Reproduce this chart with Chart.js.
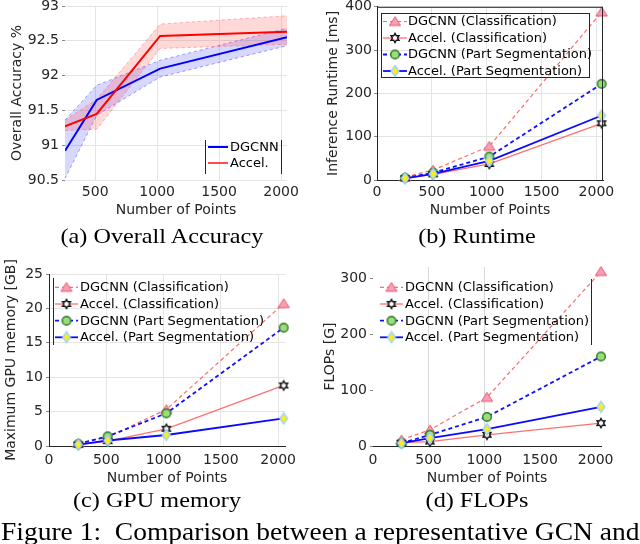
<!DOCTYPE html>
<html>
<head>
<meta charset="utf-8">
<script src="https://cdn.jsdelivr.net/npm/chart.js@4.4.1/dist/chart.umd.min.js"></script>
<style>
  body { margin: 0; background: #fff; width: 640px; height: 544px; overflow: hidden; position: relative; }
  canvas { position: absolute; }
  .cap { position: absolute; font-family: "Liberation Serif", serif; font-size: 22px; line-height: 22px; color: #000; white-space: nowrap; transform: translateX(-50%) scaleX(1.1); }
  #fig { position: absolute; left: 1px; top: 519px; font-family: "Liberation Serif", serif; font-size: 25px; line-height: 25px; white-space: nowrap; transform: scaleX(1.1); transform-origin: 0 0; }
</style>
</head>
<body>
<canvas id="acc" width="320" height="225" style="left:0;top:0"></canvas>
<canvas id="run" width="320" height="225" style="left:320px;top:0"></canvas>
<canvas id="mem" width="320" height="245" style="left:0;top:250px"></canvas>
<canvas id="flop" width="320" height="245" style="left:320px;top:250px"></canvas>
<div class="cap" style="left:162px;top:225px">(a) Overall Accuracy</div>
<div class="cap" style="left:477px;top:225px">(b) Runtime</div>
<div class="cap" style="left:157px;top:489px">(c) GPU memory</div>
<div class="cap" style="left:477px;top:489px">(d) FLOPs</div>
<div id="fig">Figure 1:&nbsp; Comparison between a representative GCN and</div>
<script>
// number of input points (x for every panel)
const points = [256, 512, 1024, 2048];

// tick labels
const xTicksAcc = [500, 1000, 1500, 2000];
const xTicks = [0, 500, 1000, 1500, 2000];
const yTicksAcc = [90.5, 91, 91.5, 92, 92.5, 93];
const yTicksRun = [0, 100, 200, 300, 400];
const yTicksMem = [0, 5, 10, 15, 20, 25];
const yTicksFlop = [0, 100, 200, 300];

// (a) overall accuracy, mean line and shaded spread
const accDgcnn = [90.92, 91.65, 92.1, 92.55];
const accDgcnnLow = [90.52, 91.43, 91.98, 92.43];
const accDgcnnHigh = [91.36, 91.86, 92.22, 92.68];
const accAccel = [91.27, 91.45, 92.57, 92.63];
const accAccelLow = [91.21, 91.23, 92.39, 92.45];
const accAccelHigh = [91.36, 91.66, 92.74, 92.86];

// (b) inference runtime [ms]
const runDgcnnCls = [7, 23, 78, 388];
const runAccelCls = [4, 13, 37, 131];
const runDgcnnSeg = [5, 17, 54, 222];
const runAccelSeg = [4, 14, 44, 149];

// (c) max GPU memory [GB]
const memDgcnnCls = [0.4, 1.3, 5.3, 20.7];
const memAccelCls = [0.2, 0.7, 2.5, 8.8];
const memDgcnnSeg = [0.3, 1.4, 4.75, 17.2];
const memAccelSeg = [0.2, 0.8, 1.6, 4.0];

// (d) FLOPs [G]
const flopDgcnnCls = [11, 29, 87, 312];
const flopAccelCls = [6, 8, 20, 41];
const flopDgcnnSeg = [5, 20, 52, 160];
const flopAccelSeg = [5, 14, 30, 70];

const seriesNames = ["DGCNN (Classification)", "Accel. (Classification)", "DGCNN (Part Segmentation)", "Accel. (Part Segmentation)"];

const FONT = "'DejaVu Sans', sans-serif";

// matlab-ish markers drawn once into small canvases
function marker(kind) {
  let c = document.createElement("canvas");
  c.width = 14;
  c.height = 14;
  let g = c.getContext("2d");
  g.lineJoin = "miter";
  if (kind == "tri") {
    g.beginPath();
    g.moveTo(7, 2.2); g.lineTo(12.6, 11); g.lineTo(1.4, 11); g.closePath();
    g.fillStyle = "#f5a0b4"; g.fill();
    g.lineWidth = 1; g.strokeStyle = "#ee5570"; g.stroke();
  } else if (kind == "hex") {
    g.beginPath();
    for (let k = 0; k < 12; k++) {
      let r = k % 2 == 0 ? 4.6 : 2.6;
      let a = -Math.PI / 2 + k * Math.PI / 6;
      let px = 7 + r * Math.cos(a), py = 7 + r * Math.sin(a);
      if (k == 0) g.moveTo(px, py); else g.lineTo(px, py);
    }
    g.closePath();
    g.fillStyle = "#fff"; g.fill();
    g.lineWidth = 1.4; g.strokeStyle = "#111"; g.stroke();
  } else if (kind == "circ") {
    g.beginPath();
    g.arc(7, 7, 4.3, 0, Math.PI * 2);
    g.fillStyle = "#9ddc78"; g.fill();
    g.lineWidth = 1.4; g.strokeStyle = "#2a7a2a"; g.stroke();
  } else if (kind == "dia") {
    g.beginPath();
    g.moveTo(7, 1.5); g.lineTo(10.8, 7); g.lineTo(7, 12.5); g.lineTo(3.2, 7); g.closePath();
    g.fillStyle = "#ffee11"; g.fill();
    g.lineWidth = 1.5; g.strokeStyle = "#9fd3ff"; g.stroke();
  }
  return c;
}

const mTri = marker("tri");
const mHex = marker("hex");
const mCirc = marker("circ");
const mDia = marker("dia");

// four-series style shared by b, c, d
const styles = [
  { color: "#ff6b6b", width: 1.2, dash: [4, 3], mark: mTri },
  { color: "#ff7070", width: 1.3, dash: [], mark: mHex },
  { color: "#1010ff", width: 1.8, dash: [4, 3], mark: mCirc },
  { color: "#0a0aff", width: 1.8, dash: [], mark: mDia },
];

// legend + extra frame lines, keyed by canvas id
let extras = {};

let overlay = {
  id: "overlay",
  afterDraw(chart) {
    let e = extras[chart.canvas.id];
    if (!e) return;
    let ctx = chart.ctx;
    let a = chart.chartArea;
    ctx.save();
    ctx.strokeStyle = "#262626";
    ctx.lineWidth = 1;
    ctx.setLineDash([]);
    if (e.frameTop) { ctx.beginPath(); ctx.moveTo(a.left, a.top + 0.5); ctx.lineTo(a.right, a.top + 0.5); ctx.stroke(); }
    if (e.frameRight) { ctx.beginPath(); ctx.moveTo(a.right - 0.5, a.top); ctx.lineTo(a.right - 0.5, a.bottom); ctx.stroke(); }
    let L = e.legend;
    ctx.strokeStyle = "#262626";
    for (let s of L.sides) {
      ctx.beginPath();
      if (s == "left") { ctx.moveTo(L.x0 + 0.5, L.y0); ctx.lineTo(L.x0 + 0.5, L.y1); }
      if (s == "right") { ctx.moveTo(L.x1 - 0.5, L.y0); ctx.lineTo(L.x1 - 0.5, L.y1); }
      if (s == "top") { ctx.moveTo(L.x0, L.y0 + 0.5); ctx.lineTo(L.x1, L.y0 + 0.5); }
      if (s == "bottom") { ctx.moveTo(L.x0, L.y1 - 0.5); ctx.lineTo(L.x1, L.y1 - 0.5); }
      ctx.stroke();
    }
    ctx.font = "13px " + FONT;
    ctx.textBaseline = "middle";
    ctx.textAlign = "left";
    L.items.forEach((it, i) => {
      let y = L.rows[i];
      ctx.strokeStyle = it.color;
      ctx.lineWidth = it.width;
      ctx.setLineDash(it.dash);
      ctx.beginPath();
      ctx.moveTo(L.lx0, y);
      ctx.lineTo(L.lx1, y);
      ctx.stroke();
      if (it.mark) ctx.drawImage(it.mark, (L.lx0 + L.lx1) / 2 - 7, y - 7);
      ctx.fillStyle = "#000";
      ctx.fillText(it.label, L.tx, y + 0.5);
    });
    ctx.restore();
  },
};

function pinAxes(area, H) {
  // fixes the plot rectangle exactly, no auto padding
  return {
    y: (scale) => { scale.width = area.left; scale.paddingTop = 0; scale.paddingBottom = 0; },
    x: (scale) => { scale.height = H - area.bottom; scale.paddingLeft = 0; scale.paddingRight = 0; },
  };
}

function makeChart(id, p) {
  let canvas = document.getElementById(id);
  let W = canvas.width, H = canvas.height;
  let fit = pinAxes(p.area, H);
  return new Chart(canvas, {
    type: "line",
    data: { datasets: p.datasets },
    options: {
      responsive: false,
      animation: false,
      events: [],
      layout: { padding: { top: p.area.top, right: W - p.area.right, left: 0, bottom: 0 } },
      plugins: { legend: { display: false }, tooltip: { enabled: false } },
      elements: { line: { tension: 0 } },
      scales: {
        x: {
          type: "linear",
          min: p.x.min,
          max: p.x.max,
          afterFit: fit.x,
          afterBuildTicks: (s) => { s.ticks = p.x.ticks.map((v) => ({ value: v })); },
          border: { display: p.x.border, color: "#262626", width: 1 },
          grid: { color: p.x.grid || "#e4e4e4", drawTicks: false },
          ticks: { padding: p.x.pad, color: "#262626", font: { family: FONT, size: 14 }, maxRotation: 0, autoSkip: false, callback: (v) => String(v) },
          title: { display: true, text: "Number of Points", color: "#262626", font: { family: FONT, size: 14 }, padding: { top: 0, bottom: p.x.tpad } },
        },
        y: {
          min: p.y.min,
          max: p.y.max,
          afterFit: fit.y,
          afterBuildTicks: (s) => { s.ticks = p.y.ticks.map((v) => ({ value: v })); },
          border: { display: p.y.border, color: "#262626", width: 1 },
          grid: { color: p.y.grid || "#e4e4e4", tickLength: 3, tickColor: "#888" },
          ticks: { padding: p.y.pad, color: "#262626", font: { family: FONT, size: 14 }, autoSkip: false, callback: (v) => String(v) },
          title: { display: true, text: p.y.title, color: "#262626", font: { family: FONT, size: 14 }, padding: { top: p.y.tpad, bottom: 0 } },
        },
      },
    },
    plugins: [overlay],
  });
}

function xy(vals) {
  return points.map((x, i) => ({ x: x, y: vals[i] }));
}

function fourSeries(list) {
  // index 0 is drawn last, so put the marker-heavy solid lines first
  let order = [3, 1, 2, 0];
  return order.map((k) => ({
    label: seriesNames[k],
    data: xy(list[k]),
    borderColor: styles[k].color,
    borderWidth: styles[k].width,
    borderDash: styles[k].dash,
    pointStyle: styles[k].mark,
    pointRadius: 5,
    fill: false,
    clip: false,
  }));
}

function legendItems() {
  return styles.map((s, k) => ({ label: seriesNames[k], color: s.color, width: s.width, dash: s.dash, mark: s.mark }));
}

// ---- (a) accuracy
extras["acc"] = {
  legend: {
    x0: 205, x1: 282, y0: 140, y1: 174, sides: ["left", "right"],
    rows: [147, 163], lx0: 208, lx1: 228, tx: 230,
    items: [
      { label: "DGCNN", color: "#0000ff", width: 2, dash: [] },
      { label: "Accel.", color: "#ff2020", width: 1.6, dash: [] },
    ],
  },
};
makeChart("acc", {
  area: { left: 65, right: 287, top: 6, bottom: 180 },
  x: { min: 256, max: 2048, ticks: xTicksAcc, border: false, pad: 4, tpad: 6 },
  y: { min: 90.5, max: 93, ticks: yTicksAcc, border: false, pad: 3, tpad: 8.5, title: "Overall Accuracy %" },
  datasets: [
    { data: xy(accAccel), borderColor: "#ff0000", borderWidth: 2, pointRadius: 0, fill: false },
    { data: xy(accDgcnn), borderColor: "#0000ff", borderWidth: 2, pointRadius: 0, fill: false },
    { data: xy(accAccelHigh), borderColor: "rgba(255,90,90,0.45)", borderWidth: 1, borderDash: [3, 3], pointRadius: 0, fill: "+1", backgroundColor: "rgba(255,60,60,0.2)" },
    { data: xy(accAccelLow), borderColor: "rgba(255,90,90,0.45)", borderWidth: 1, borderDash: [3, 3], pointRadius: 0, fill: false },
    { data: xy(accDgcnnHigh), borderColor: "rgba(70,70,255,0.5)", borderWidth: 1, borderDash: [3, 3], pointRadius: 0, fill: "+1", backgroundColor: "rgba(60,60,255,0.2)" },
    { data: xy(accDgcnnLow), borderColor: "rgba(70,70,255,0.5)", borderWidth: 1, borderDash: [3, 3], pointRadius: 0, fill: false },
  ],
});

// ---- (b) runtime
extras["run"] = {
  frameTop: true,
  frameRight: true,
  legend: {
    x0: 61, x1: 270, y0: 13, y1: 78, sides: ["left", "right", "top", "bottom"],
    rows: [21.5, 38, 54.5, 71], lx0: 63, lx1: 87, tx: 88,
    items: legendItems(),
  },
};
makeChart("run", {
  area: { left: 57, right: 283, top: 6, bottom: 180 },
  x: { min: 0, max: 2060, ticks: xTicks, border: true, pad: 4.3, tpad: 6 },
  y: { min: 0, max: 400, ticks: yTicksRun, border: true, pad: 2, tpad: 5, title: "Inference Runtime [ms]" },
  datasets: fourSeries([runDgcnnCls, runAccelCls, runDgcnnSeg, runAccelSeg]),
});

// ---- (c) GPU memory
extras["mem"] = {
  legend: {
    x0: 53, x1: 270, y0: 28, y1: 95, sides: ["left"],
    rows: [37.3, 54, 70.7, 87.3], lx0: 55, lx1: 78, tx: 80,
    items: legendItems(),
  },
};
makeChart("mem", {
  area: { left: 49, right: 285, top: 24, bottom: 196 },
  x: { min: 0, max: 2060, ticks: xTicks, border: true, pad: 6.3, tpad: 8.3 },
  y: { min: 0, max: 25, ticks: yTicksMem, border: true, pad: 3, tpad: 3.3, title: "Maximum GPU memory [GB]" },
  datasets: fourSeries([memDgcnnCls, memAccelCls, memDgcnnSeg, memAccelSeg]),
});

// ---- (d) FLOPs
extras["flop"] = {
  legend: {
    x0: 58, x1: 272, y0: 29, y1: 95, sides: ["right"],
    rows: [37.3, 54, 70.7, 87.3], lx0: 60, lx1: 83, tx: 85,
    items: legendItems(),
  },
};
makeChart("flop", {
  area: { left: 53, right: 281, top: 17, bottom: 196 },
  x: { min: 0, max: 2048, ticks: xTicks, border: true, pad: 6.3, tpad: 8.3, grid: (c) => (c.tick && (c.tick.value == 500 || c.tick.value == 1000) ? "#d8d8d8" : "rgba(0,0,0,0)") },
  y: { min: 0, max: 320, ticks: yTicksFlop, border: false, pad: 3, tpad: 1.6, title: "FLOPs [G]", grid: "rgba(0,0,0,0)" },
  datasets: fourSeries([flopDgcnnCls, flopAccelCls, flopDgcnnSeg, flopAccelSeg]),
});
</script>
</body>
</html>
